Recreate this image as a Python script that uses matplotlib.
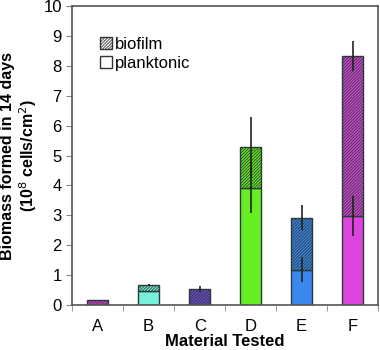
import numpy as np
import matplotlib
matplotlib.use('Agg')
import matplotlib.pyplot as plt
from matplotlib.patches import Patch

plt.rcParams['font.family'] = ['Liberation Sans', 'DejaVu Sans']
plt.rcParams['hatch.linewidth'] = 0.6

materials = ['A', 'B', 'C', 'D', 'E', 'F']
planktonic = [0.0, 0.45, 0.0, 3.92, 1.18, 2.98]
total = [0.15, 0.67, 0.52, 5.28, 2.92, 8.33]
planktonic_err = [0.0, 0.0, 0.0, 0.85, 0.42, 0.68]
total_err = [0.0, 0.03, 0.1, 1.0, 0.42, 0.5]
colors = ['#e040d8', '#78f0dc', '#7048d0', '#66ee22', '#3a88ee', '#dd44dd']

biofilm = [t - p for t, p in zip(total, planktonic)]
x = np.arange(len(materials))

fig = plt.figure(figsize=(3.8, 3.5), dpi=100)
ax = fig.add_axes([0.19, 0.129, 0.805, 0.853])

w = 0.42
hatch = '/' * 11
ax.bar(x, planktonic, w, color=colors, edgecolor='#2a3a38', linewidth=1.0, zorder=2)
ax.bar(x, biofilm, w, bottom=planktonic, color=colors, edgecolor='#2a3a38',
       hatch=hatch, linewidth=1.0, zorder=2)

# error bars
for i in range(len(x)):
    if planktonic_err[i] > 0:
        ax.errorbar(x[i], planktonic[i], yerr=planktonic_err[i], fmt='none',
                    ecolor='#222222', elinewidth=1.2, capsize=0, zorder=3)
    if total_err[i] > 0:
        ax.errorbar(x[i], total[i], yerr=total_err[i], fmt='none',
                    ecolor='#222222', elinewidth=1.2, capsize=0, zorder=3)

ax.set_xlim(-0.5, len(x) - 0.5)
ax.set_ylim(0, 10)
ax.set_yticks(range(0, 11))
ax.tick_params(axis='y', labelsize=12, length=4, color='#888888')
ax.set_xticks(x)
ax.set_xticklabels(materials, fontsize=12)
ax.set_xticks(np.arange(-0.5, len(x)), minor=True)
ax.tick_params(axis='x', which='major', length=0, pad=10)
ax.tick_params(axis='x', which='minor', length=4, color='#888888')

for s in ax.spines.values():
    s.set_color('#555555')
    s.set_linewidth(1.2)

ax.set_ylabel('Biomass formed in 14 days\n(10$^8$ cells/cm$^2$)', fontsize=11.5,
              fontweight='bold', linespacing=1.1)
ax.yaxis.set_label_coords(-0.11, 0.5)
ax.set_xlabel('Material Tested', fontsize=12, fontweight='bold', labelpad=0)

handles = [Patch(facecolor='white', edgecolor='#333333', hatch=hatch),
           Patch(facecolor='white', edgecolor='#333333')]
ax.legend(handles, ['biofilm', 'planktonic'], loc='upper left',
          bbox_to_anchor=(0.07, 0.92), frameon=False, fontsize=12,
          handlelength=0.7, handleheight=0.7, handletextpad=0.2,
          labelspacing=0.25, borderaxespad=0)

fig.savefig('out.png', dpi=100)
